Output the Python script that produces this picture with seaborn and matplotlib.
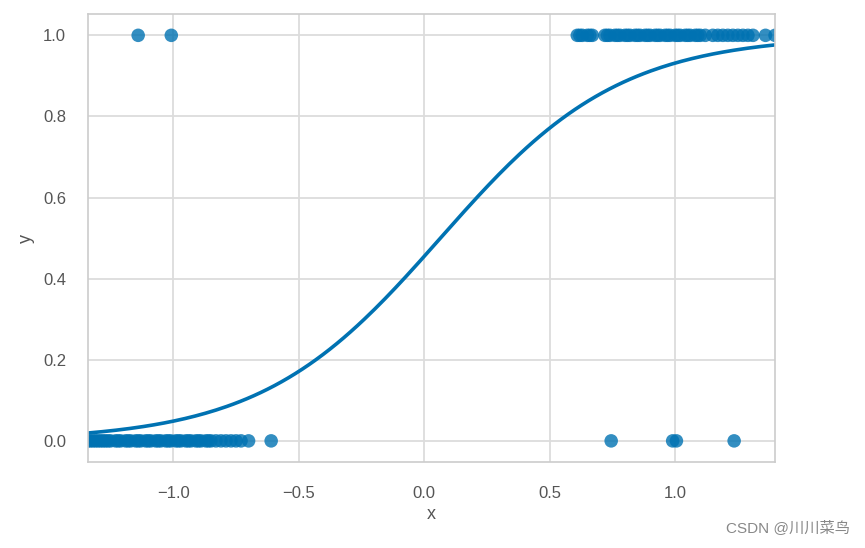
import numpy as np
import pandas as pd
import matplotlib
matplotlib.use("Agg")
import matplotlib.pyplot as plt
import seaborn as sns

x_class0 = [-1.339, -1.33, -1.32, -1.31, -1.30, -1.29, -1.28, -1.27, -1.26, -1.25,
            -1.23, -1.22, -1.21, -1.19, -1.18, -1.17, -1.15, -1.14, -1.13, -1.11,
            -1.10, -1.09, -1.07, -1.06, -1.05, -1.03, -1.02, -1.01, -0.99, -0.98,
            -0.97, -0.95, -0.94, -0.93, -0.91, -0.90, -0.89, -0.87, -0.86, -0.85,
            -0.83, -0.81, -0.79, -0.77, -0.75, -0.73, -0.70, -0.61,
            0.745, 0.99, 1.005, 1.235]
x_class1 = [-1.14, -1.008, 0.61, 0.62, 0.63, 0.65, 0.66, 0.67, 0.72, 0.73, 0.74,
            0.76, 0.77, 0.78, 0.80, 0.81, 0.82, 0.84, 0.85, 0.86, 0.88, 0.89,
            0.90, 0.92, 0.93, 0.94, 0.96, 0.97, 0.98, 1.00, 1.01, 1.02, 1.04,
            1.05, 1.06, 1.08, 1.09, 1.10, 1.12, 1.15, 1.17, 1.19, 1.21, 1.23,
            1.25, 1.27, 1.29, 1.31, 1.36, 1.398]

df = pd.DataFrame({
    "x": x_class0 + x_class1,
    "y": [0] * len(x_class0) + [1] * len(x_class1),
})

# logistic fit (newton iterations), same model regplot(logistic=True) uses
X = np.column_stack([np.ones(len(df)), df["x"].values])
Y = df["y"].values.astype(float)
beta = np.zeros(2)
for _ in range(50):
    p = 1 / (1 + np.exp(-X @ beta))
    W = p * (1 - p)
    H = X.T @ (X * W[:, None])
    beta = beta + np.linalg.solve(H, X.T @ (Y - p))

grid = np.linspace(df["x"].min(), df["x"].max(), 200)
fit = pd.DataFrame({"x": grid, "y": 1 / (1 + np.exp(-(beta[0] + beta[1] * grid)))})

sns.set_theme(style="whitegrid")
plt.rcParams["font.family"] = ["Liberation Sans", "Noto Sans CJK SC", "DejaVu Sans"]
blue = "#0072B2"

fig, ax = plt.subplots(figsize=(8.65, 5.48), dpi=100)
fig.subplots_adjust(left=0.102, right=0.896, top=0.974, bottom=0.157)

sns.scatterplot(data=df, x="x", y="y", color=blue, alpha=0.8, s=95,
                edgecolor="none", ax=ax)
sns.lineplot(data=fit, x="x", y="y", color=blue, linewidth=2.6, ax=ax)

ax.set_xlim(df["x"].min(), df["x"].max())
ax.set_ylim(-0.052, 1.052)
ax.set_yticks([0.0, 0.2, 0.4, 0.6, 0.8, 1.0])
ax.set_xticks([-1.0, -0.5, 0.0, 0.5, 1.0])
ax.tick_params(axis="y", labelsize=12, colors="#555555", length=0, pad=16)
ax.tick_params(axis="x", labelsize=12, colors="#555555", length=0, pad=17)
ax.set_xlabel("x", fontsize=13, color="#555555", labelpad=4)
ax.set_ylabel("y", fontsize=13, color="#555555", labelpad=6)
ax.grid(True, color="#dcdcdc", linewidth=1.3)
for s in ax.spines.values():
    s.set_color("#cccccc")
    s.set_linewidth(1.2)

fig.text(0.983, 0.038, "CSDN @川川菜鸟", ha="right", va="center",
         fontsize=11, color="#888888")

fig.savefig("out.png", dpi=100)
